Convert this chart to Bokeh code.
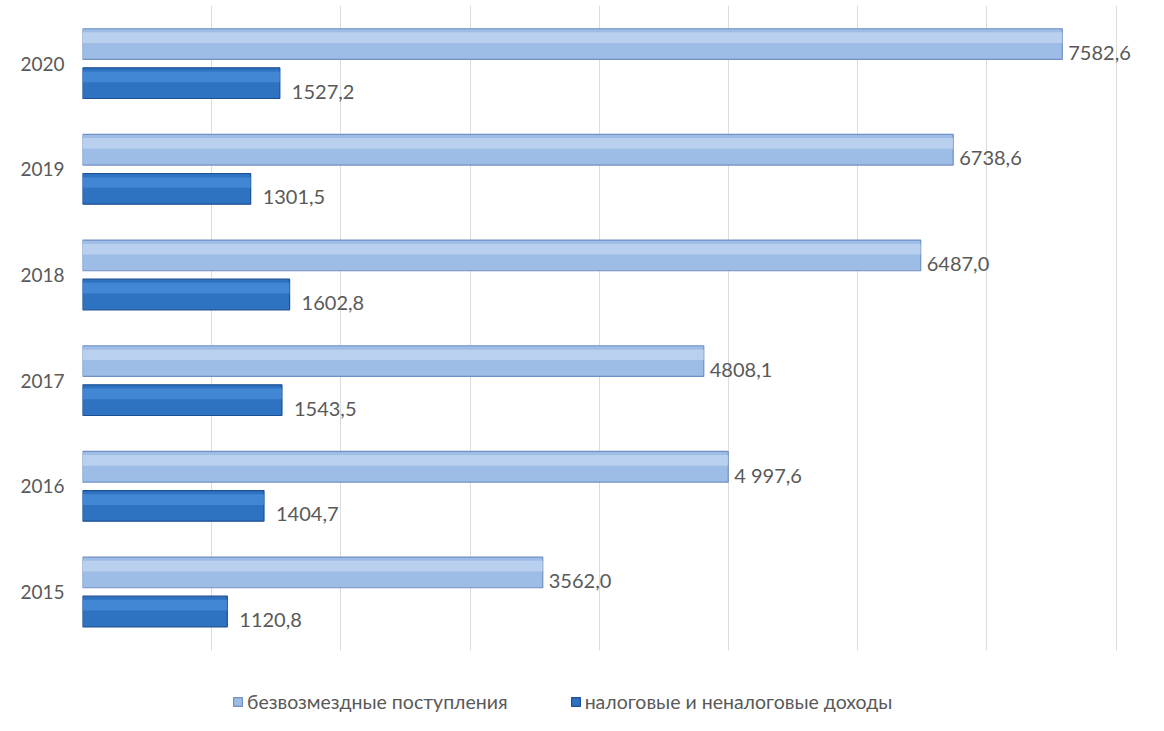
from bokeh.plotting import figure
from bokeh.models import ColumnDataSource, Range1d, Legend, LegendItem, SingleIntervalTicker, FixedTicker
from bokeh.transform import dodge
from bokeh.core.properties import value
from bokeh.embed import file_html
from bokeh.resources import INLINE

years = ["2015", "2016", "2017", "2018", "2019", "2020"]
grants = [3562.0, 4997.6, 4808.1, 6487.0, 6738.6, 7582.6]          # безвозмездные поступления
grants_labels = ["3562,0", "4 997,6", "4808,1", "6487,0", "6738,6", "7582,6"]
taxes = [1120.8, 1404.7, 1543.5, 1602.8, 1301.5, 1527.2]            # налоговые и неналоговые доходы
taxes_labels = ["1120,8", "1404,7", "1543,5", "1602,8", "1301,5", "1527,2"]
series_names = ["безвозмездные поступления", "налоговые и неналоговые доходы"]

FONT = "Lato"
TXT = "#595959"

ypos = list(range(len(years)))
src = ColumnDataSource(dict(ypos=ypos, year=years, grants=grants, grants_lab=grants_labels,
                            taxes=taxes, taxes_lab=taxes_labels))

p = figure(frame_width=1066, frame_height=708, output_backend="svg", toolbar_location=None,
           x_axis_location=None,
           y_range=Range1d(-1.15, 5.55), x_range=Range1d(0, 8250),
           min_border_left=82, min_border_right=0, min_border_top=5, min_border_bottom=0)
p.outline_line_color = None
p.background_fill_color = "white"

off = 0.185
h = 0.29
# light bars
r1 = p.hbar(y=dodge("ypos", off), right="grants", left=0, height=h, source=src,
            fill_color="#9dbce6", line_color="#7190c4", line_width=1.2)
p.hbar(y=dodge("ypos", off + 0.06), right="grants", left=0, height=h * 0.35, source=src,
       fill_color="#c4d8f1", fill_alpha=0.7, line_color=None)
# dark bars
r2 = p.hbar(y=dodge("ypos", -off), right="taxes", left=0, height=h, source=src,
            fill_color="#2e72c2", line_color="#1d4f94", line_width=1.2)
p.hbar(y=dodge("ypos", -off + 0.06), right="taxes", left=0, height=h * 0.35, source=src,
       fill_color="#4a90db", fill_alpha=0.7, line_color=None)

p.text(x="grants", y=dodge("ypos", off - 0.08), text="grants_lab", source=src,
       x_offset=6, text_baseline="middle", text_align="left", text_font=value(FONT),
       text_font_size="20px", text_color=TXT)
p.text(x="taxes", y=dodge("ypos", -off - 0.08), text="taxes_lab", source=src,
       x_offset=12, text_baseline="middle", text_align="left", text_font=value(FONT),
       text_font_size="20px", text_color=TXT)

p.xgrid.ticker = SingleIntervalTicker(interval=1000)
p.xgrid.grid_line_color = "#dcdcdc"
try:
    p.xgrid.cross_bounds = (-0.55, 5.55)
except Exception:
    pass
p.ygrid.grid_line_color = None
p.yaxis.ticker = FixedTicker(ticks=ypos)
p.yaxis.major_label_overrides = {i: y for i, y in zip(ypos, years)}
p.yaxis.axis_line_color = None
p.yaxis.major_tick_line_color = None
p.yaxis.minor_tick_line_color = None
p.yaxis.major_label_text_font = FONT
p.yaxis.major_label_text_font_size = "19px"
p.yaxis.major_label_text_color = TXT
p.yaxis.major_label_standoff = 12

legend = Legend(items=[LegendItem(label=series_names[0], renderers=[r1]),
                       LegendItem(label=series_names[1], renderers=[r2])],
                orientation="horizontal", location=(150, 0),
                label_text_font=FONT, label_text_font_size="19.5px", label_text_color=TXT,
                glyph_width=11, glyph_height=11, spacing=62, border_line_color=None,
                background_fill_alpha=0, label_standoff=4, margin=0, padding=4)
p.add_layout(legend, "center")

open("out.html", "w").write(file_html(p, INLINE))
